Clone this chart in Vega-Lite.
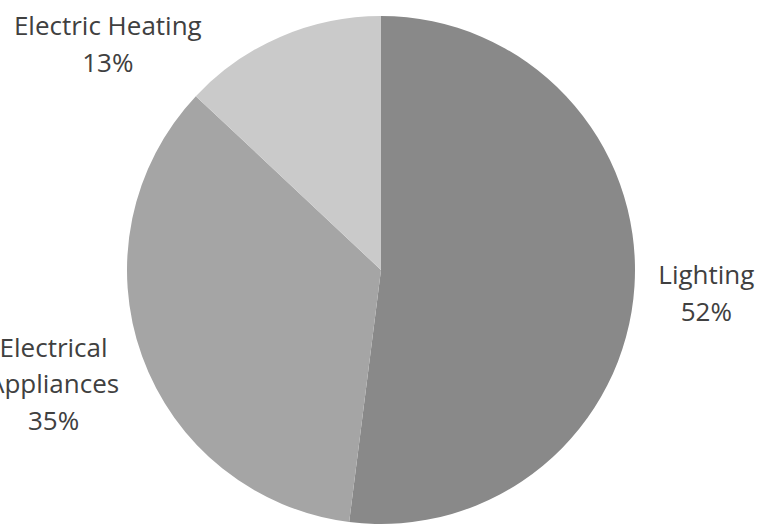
{
  "$schema": "https://vega.github.io/schema/vega-lite/v6.json",
  "width": 762,
  "height": 540,
  "autosize": "none",
  "padding": {"left": 0, "top": 0, "right": 10, "bottom": 0},
  "background": "white",
  "config": {"view": {"stroke": null}},
  "data": {
    "values": [
      {"category": "Lighting", "value": 52, "order": 1, "label": "Lighting\n52%"},
      {"category": "Electrical Appliances", "value": 35, "order": 2, "label": "Electrical\nAppliances\n35%"},
      {"category": "Electric Heating", "value": 13, "order": 3, "label": "Electric Heating\n13%"}
    ]
  },
  "encoding": {
    "theta": {"field": "value", "type": "quantitative", "stack": true},
    "order": {"field": "order", "type": "quantitative"}
  },
  "layer": [
    {
      "mark": {"type": "arc", "outerRadius": 254},
      "encoding": {
        "color": {
          "field": "category",
          "type": "nominal",
          "scale": {
            "domain": ["Lighting", "Electrical Appliances", "Electric Heating"],
            "range": ["#898989", "#a5a5a5", "#cacaca"]
          },
          "legend": null
        }
      }
    },
    {
      "mark": {"type": "text", "radius": 326, "dy": -14, "font": "Open Sans", "fontSize": 26, "color": "#404040", "lineBreak": "\n", "lineHeight": 37, "align": "center", "baseline": "middle"},
      "encoding": {
        "text": {"condition": {"test": "datum.category === 'Lighting'", "field": "label"}, "value": ""}
      }
    },
    {
      "mark": {"type": "text", "radius": 348, "dy": -39, "font": "Open Sans", "fontSize": 26, "color": "#404040", "lineBreak": "\n", "lineHeight": 36.5, "align": "center", "baseline": "middle"},
      "encoding": {
        "text": {"condition": {"test": "datum.category === 'Electrical Appliances'", "field": "label"}, "value": ""}
      }
    },
    {
      "mark": {"type": "text", "radius": 280, "dx": -162, "dy": 14, "font": "Open Sans", "fontSize": 26, "color": "#404040", "lineBreak": "\n", "lineHeight": 37, "align": "center", "baseline": "middle"},
      "encoding": {
        "text": {"condition": {"test": "datum.category === 'Electric Heating'", "field": "label"}, "value": ""}
      }
    }
  ]
}
